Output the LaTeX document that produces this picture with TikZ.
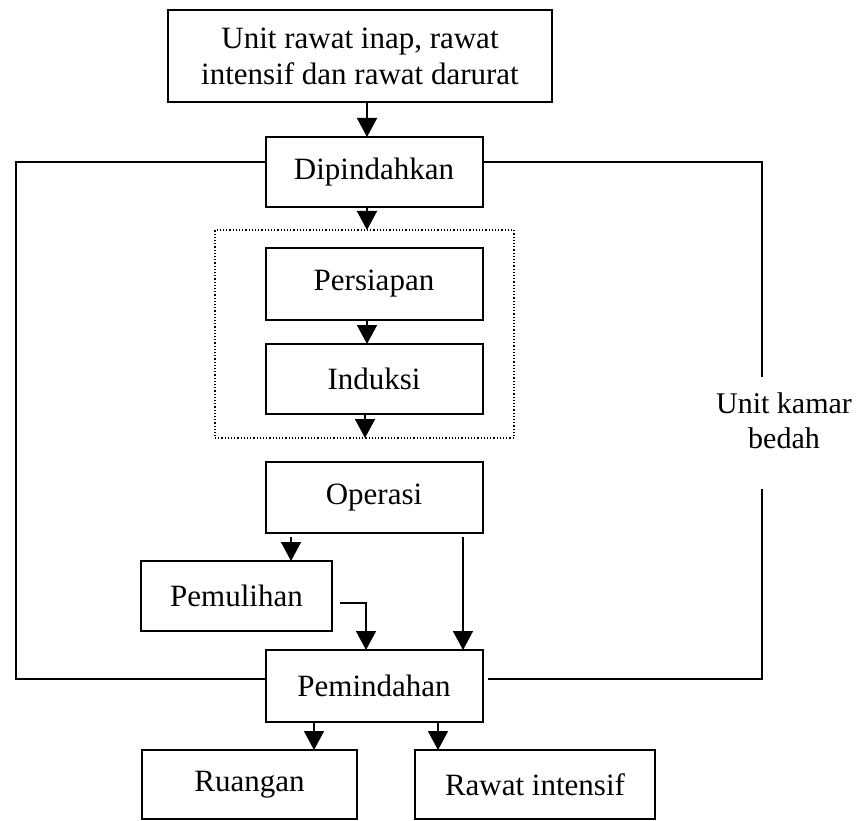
\documentclass[tikz,border=0pt]{standalone}
\usepackage{fontspec}
\setmainfont{Liberation Serif}
\usetikzlibrary{arrows.meta,calc}

\tikzset{
  stepbox/.style={draw, line width=2pt, inner sep=0pt, outer sep=0pt,
    align=center, font=\fontsize{31}{36}\selectfont},
  groupbox/.style={draw, dotted, line width=1.2pt},
  flow/.style={line width=1.6pt, -{Triangle[width=20pt,length=19pt]}},
  loopline/.style={line width=1.3pt},
  note/.style={align=center, font=\fontsize{30}{35}\selectfont, inner sep=0pt}
}

\begin{document}
\begin{tikzpicture}[x=1pt,y=-1pt]
  \useasboundingbox[fill=white] (0,0) rectangle (859,821);

  % process boxes
  \node[stepbox, minimum width=384pt, minimum height=92pt] (top) at (360,56)
    {Unit rawat inap, rawat\\intensif dan rawat darurat};
  \node[stepbox, minimum width=217pt, minimum height=70pt] (dip) at (374,172) {Dipindahkan};
  \node[stepbox, minimum width=217pt, minimum height=72pt] (pers) at (374,284) {Persiapan};
  \node[stepbox, minimum width=217pt, minimum height=70pt] (ind) at (374,379) {Induksi};
  \node[stepbox, minimum width=217pt, minimum height=71pt] (op) at (374,497.5) {Operasi};
  \node[stepbox, minimum width=191pt, minimum height=70pt] (pemul) at (236.5,596) {Pemulihan};
  \node[stepbox, minimum width=217pt, minimum height=72pt] (pind) at (374,686) {Pemindahan};
  \node[stepbox, minimum width=215pt, minimum height=69pt] (ruang) at (249.5,784.5) {Ruangan};
  \node[stepbox, minimum width=240pt, minimum height=69pt] (rawat) at (535,784.5) {Rawat intensif};

  % dotted frame around preparation and induction
  \node[groupbox, inner sep=0pt, outer sep=0pt, minimum width=299pt, minimum height=208pt]
    (grp) at (364.5,334) {};

  % label on the right loop
  \node[note] (lbl) at (784,421) {Unit kamar\\bedah};
  \coordinate (lft) at (16,0);
  \coordinate (rgt) at (762,0);

  % main flow
  \draw[flow] ([xshift=7pt]top.south) -- ([xshift=-7pt]dip.north);
  \draw[flow] ([xshift=-7pt]dip.south) -- ([xshift=-7pt]dip.south |- grp.north);
  \draw[flow] ([xshift=-7pt]pers.south) -- ([xshift=-7pt]ind.north);
  \draw[flow] ([xshift=-9pt]ind.south) -- ([xshift=-9pt]ind.south |- grp.south);
  \draw[flow] ([xshift=54.5pt,yshift=-4pt]pemul.north |- op.south) -- ([xshift=54.5pt]pemul.north);
  \draw[flow] ([xshift=89pt,yshift=-4pt]op.south) -- ([xshift=89pt]pind.north);
  \draw[flow] ([xshift=8pt,yshift=-7pt]pemul.east) -| ([xshift=-8pt]pind.north);
  \draw[flow] ([xshift=-60pt]pind.south) -- ([xshift=-60pt]pind.south |- ruang.north);
  \draw[flow] ([xshift=64pt]pind.south) -- ([xshift=64pt]pind.south |- rawat.north);

  % surgical unit loop
  \draw[loopline] ([yshift=10pt]dip.west) -| ([yshift=7pt]pind.west -| lft)
    -- ([yshift=7pt]pind.west);
  \draw[loopline] ([yshift=10pt]dip.east) -| ([yshift=16pt]lbl.north -| rgt);
  \draw[loopline] ([yshift=-40pt]lbl.south -| rgt) |- ([xshift=5pt,yshift=7pt]pind.east);
\end{tikzpicture}
\end{document}
